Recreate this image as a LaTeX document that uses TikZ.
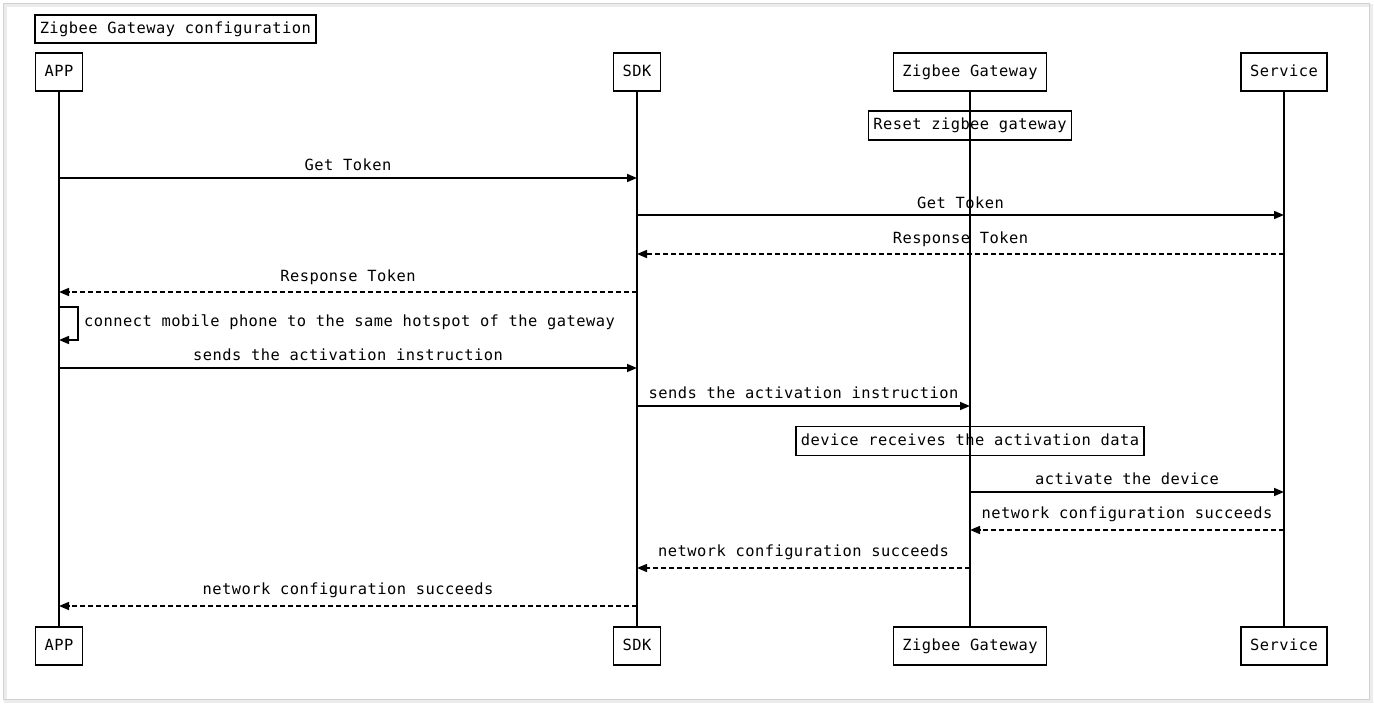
\documentclass[tikz,border=0pt]{standalone}
\usepackage{fontspec}
\setmonofont[LetterSpace=3]{DejaVu Sans Mono}
\usetikzlibrary{arrows.meta}
\begin{document}
\begin{tikzpicture}[x=1pt,y=-1pt,
  every node/.style={font=\ttfamily\fontsize{15.4}{17}\selectfont},
  actor/.style={draw=black,line width=1.5pt,fill=white,minimum height=38pt,inner xsep=9pt,inner ysep=0pt,text height=11pt,text depth=3pt},
  notebox/.style={draw=black,line width=1.5pt,minimum height=29pt,inner xsep=5pt,inner ysep=0pt,text height=11pt,text depth=3pt},
  life/.style={line width=1.5pt},
  msg/.style={line width=1.5pt,-{Triangle[length=10pt,width=8pt]}},
  reply/.style={msg,dash pattern=on 5pt off 3pt},
  lbl/.style={inner sep=0pt,anchor=base}]
\useasboundingbox (0,0) rectangle (1374,704);
\draw[gray!15,line width=3pt] (5,5) rectangle (1371,701);
\draw[gray!35,line width=0.8pt] (3.5,3.5) rectangle (1369,699);
% title
\node[notebox,minimum height=28pt,anchor=west] (title) at (34,29) {Zigbee Gateway configuration};
% actors
\node[actor] (appT) at (59,72) {APP};
\node[actor] (sdkT) at (637,72) {SDK};
\node[actor] (gwT) at (970,72) {Zigbee Gateway};
\node[actor] (svT) at (1284,72) {Service};
\node[actor] (appB) at (59,646) {APP};
\node[actor] (sdkB) at (637,646) {SDK};
\node[actor] (gwB) at (970,646) {Zigbee Gateway};
\node[actor] (svB) at (1284,646) {Service};
% notes (drawn before lifelines so lines pass over)
\node[notebox] (reset) at (970,125.5) {Reset zigbee gateway};
\node[notebox] (recv) at (970,441) {device receives the activation data};
% lifelines
\draw[life] (appT) -- (appB);
\draw[life] (sdkT) -- (sdkB);
\draw[life] (gwT) -- (gwB);
\draw[life] (svT) -- (svB);
% coordinates on lifelines
\foreach \n/\x in {app/59,sdk/637,gw/970,sv/1284}{
  \foreach \y in {178,215,254,292,307,340,368,406,492,530,568,606}{
    \coordinate (\n\y) at (\x,\y);
  }
}
\coordinate (loopA) at (78,307);
\coordinate (loopB) at (78,340);
% messages
\draw[msg] (app178) -- node[lbl,above=7pt]{Get Token} (sdk178);
\draw[msg] (sdk215) -- node[lbl,above=6pt]{Get Token} (sv215);
\draw[reply] (sv254) -- node[lbl,above=7pt]{Response Token} (sdk254);
\draw[reply] (sdk292) -- node[lbl,above=7pt]{Response Token} (app292);
\draw[line width=1.5pt,-{Triangle[length=10pt,width=8pt]}] (app307) -- (loopA) -- (loopB) -- (app340);
\node[anchor=west,inner sep=0pt] (loopL) at (84,322) {connect mobile phone to the same hotspot of the gateway};
\draw[msg] (app368) -- node[lbl,above=7pt]{sends the activation instruction} (sdk368);
\draw[msg] (sdk406) -- node[lbl,above=7pt]{sends the activation instruction} (gw406);
\draw[msg] (gw492) -- node[lbl,above=7pt]{activate the device} (sv492);
\draw[reply] (sv530) -- node[lbl,above=7pt]{network configuration succeeds} (gw530);
\draw[reply] (gw568) -- node[lbl,above=7pt]{network configuration succeeds} (sdk568);
\draw[reply] (sdk606) -- node[lbl,above=7pt]{network configuration succeeds} (app606);
\end{tikzpicture}
\end{document}
